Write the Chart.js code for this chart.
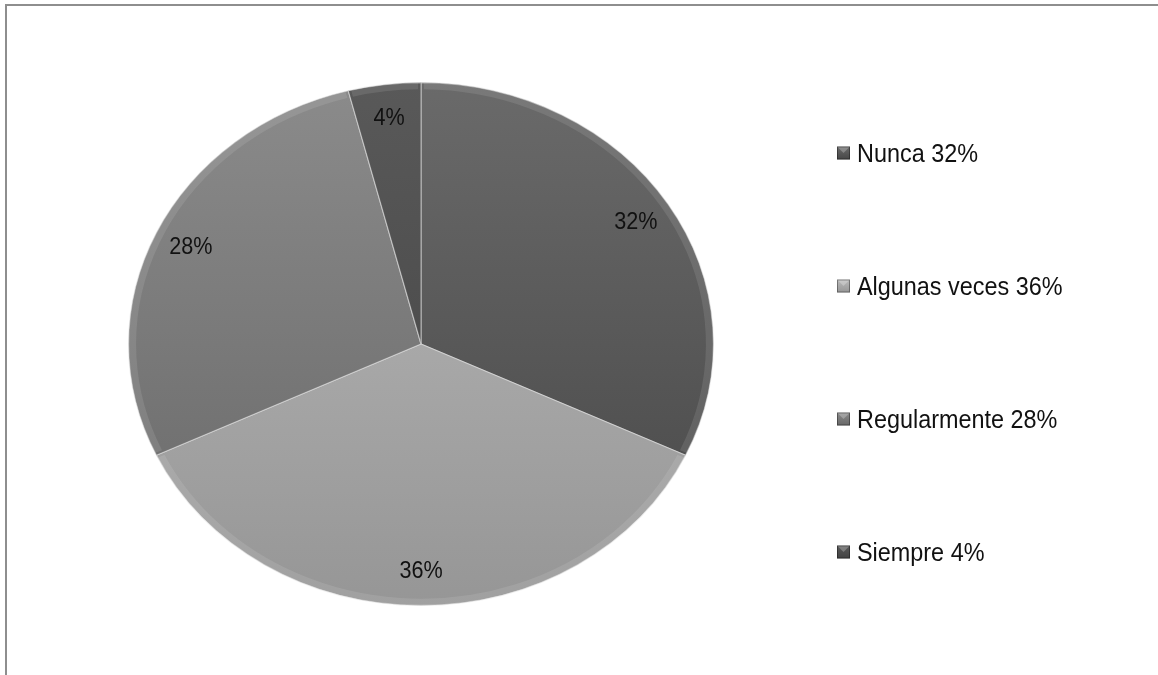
<!DOCTYPE html>
<html>
<head>
<meta charset="utf-8">
<script src="https://cdn.jsdelivr.net/npm/chart.js@4/dist/chart.umd.min.js"></script>
<style>
    html, body { margin: 0; padding: 0; background: #fff; overflow: hidden; }
    #frame { position: absolute; left: 5px; top: 4px; width: 1200px; height: 720px; border-top: 2px solid #8e8e8e; border-left: 2px solid #8e8e8e; }
    #wrap { position: absolute; left: 0; top: 0; width: 1158px; height: 675px; }
</style>
</head>
<body>
<div id="frame"></div>
<div id="wrap"><canvas id="pie-chart" width="1158" height="675"></canvas></div>
<script>
let categories = ['Nunca', 'Algunas veces', 'Regularmente', 'Siempre']
let percentages = [32, 36, 28, 4]
let legendLabels = categories.map((c, i) => c + ' ' + percentages[i] + '%')

let topColors = ['#6a6a6a', '#bababa', '#8b8b8b', '#595959']
let bottomColors = ['#464646', '#969696', '#676767', '#424242']

let flatten = 0.894   // the pie in the picture is an ellipse, wider than tall
let fontFamily = '"Liberation Sans", Arial, sans-serif'
let narrow = 0.9      // text in the picture is a bit condensed

function sliceGradient(ctx, top, bottom, i) {
    let g = ctx.createLinearGradient(0, top, 0, bottom)
    g.addColorStop(0, topColors[i])
    g.addColorStop(1, bottomColors[i])
    return g
}

function narrowText(ctx, text, x, y) {
    ctx.save()
    ctx.translate(x, y)
    ctx.scale(narrow, 1)
    ctx.fillText(text, 0, 0)
    ctx.restore()
}

// squash the arcs vertically around the pie centre, and give them a soft rim
let squash = {
    id: 'squash',
    beforeDatasetsDraw(chart) {
        let ctx = chart.ctx
        let a = chart.chartArea
        let cy = (a.top + a.bottom) / 2
        ctx.save()
        ctx.translate(0, cy)
        ctx.scale(1, flatten)
        ctx.translate(0, -cy)
    },
    afterDatasetsDraw(chart) {
        let ctx = chart.ctx
        chart.getDatasetMeta(0).data.forEach(function(arc) {
            ctx.beginPath()
            ctx.arc(arc.x, arc.y, arc.outerRadius - 4, arc.startAngle + 0.01, arc.endAngle - 0.01)
            ctx.strokeStyle = 'rgba(255,255,255,0.10)'
            ctx.lineWidth = 7
            ctx.stroke()
        })
        ctx.restore()
    }
}

let sliceLabels = {
    id: 'sliceLabels',
    afterDraw(chart) {
        let ctx = chart.ctx
        let arcs = chart.getDatasetMeta(0).data
        ctx.save()
        ctx.font = '24px ' + fontFamily
        ctx.fillStyle = '#111'
        ctx.textAlign = 'center'
        ctx.textBaseline = 'middle'
        arcs.forEach(function(arc, i) {
            let mid = (arc.startAngle + arc.endAngle) / 2
            let r = arc.outerRadius * 0.87
            let x = arc.x + Math.cos(mid) * r
            let y = arc.y + Math.sin(mid) * r * flatten
            narrowText(ctx, percentages[i] + '%', x, y)
        })
        ctx.restore()
    }
}

let sideLegend = {
    id: 'sideLegend',
    afterDraw(chart, args, opts) {
        let ctx = chart.ctx
        ctx.save()
        ctx.font = '26px ' + fontFamily
        ctx.textBaseline = 'alphabetic'
        legendLabels.forEach(function(text, i) {
            let cy = opts.top + i * opts.step
            let s = opts.box
            let bx = opts.x
            let by = cy - s / 2
            ctx.fillStyle = sliceGradient(ctx, by, by + s, i)
            ctx.fillRect(bx, by, s, s)
            // little bevel on the marker
            ctx.fillStyle = 'rgba(255,255,255,0.25)'
            ctx.beginPath()
            ctx.moveTo(bx, by)
            ctx.lineTo(bx + s, by)
            ctx.lineTo(bx + s / 2, by + s / 2)
            ctx.closePath()
            ctx.fill()
            ctx.strokeStyle = 'rgba(0,0,0,0.35)'
            ctx.lineWidth = 1
            ctx.strokeRect(bx + 0.5, by + 0.5, s - 1, s - 1)
            ctx.fillStyle = '#111'
            narrowText(ctx, text, bx + s + 7, cy + 9)
        })
        ctx.restore()
    }
}

let ctx = document.querySelector('#pie-chart').getContext('2d')

let pieChart = new Chart(ctx, {
    type: 'pie',
    data: {
        labels: categories,
        datasets: [{
            data: percentages,
            backgroundColor: function(context) {
                let a = context.chart.chartArea
                let i = context.dataIndex
                if (!a) return topColors[i]
                return sliceGradient(context.chart.ctx, a.top, a.bottom, i)
            },
            borderColor: 'rgba(225,225,225,0.55)',
            borderWidth: 1.2
        }]
    },
    options: {
        responsive: false,
        animation: false,
        layout: { padding: { left: 128, right: 444, top: 51, bottom: 38 } },
        plugins: {
            legend: { display: false },
            tooltip: { enabled: false },
            sideLegend: { x: 837, top: 153, step: 133, box: 13 }
        }
    },
    plugins: [squash, sliceLabels, sideLegend]
})
</script>
</body>
</html>
